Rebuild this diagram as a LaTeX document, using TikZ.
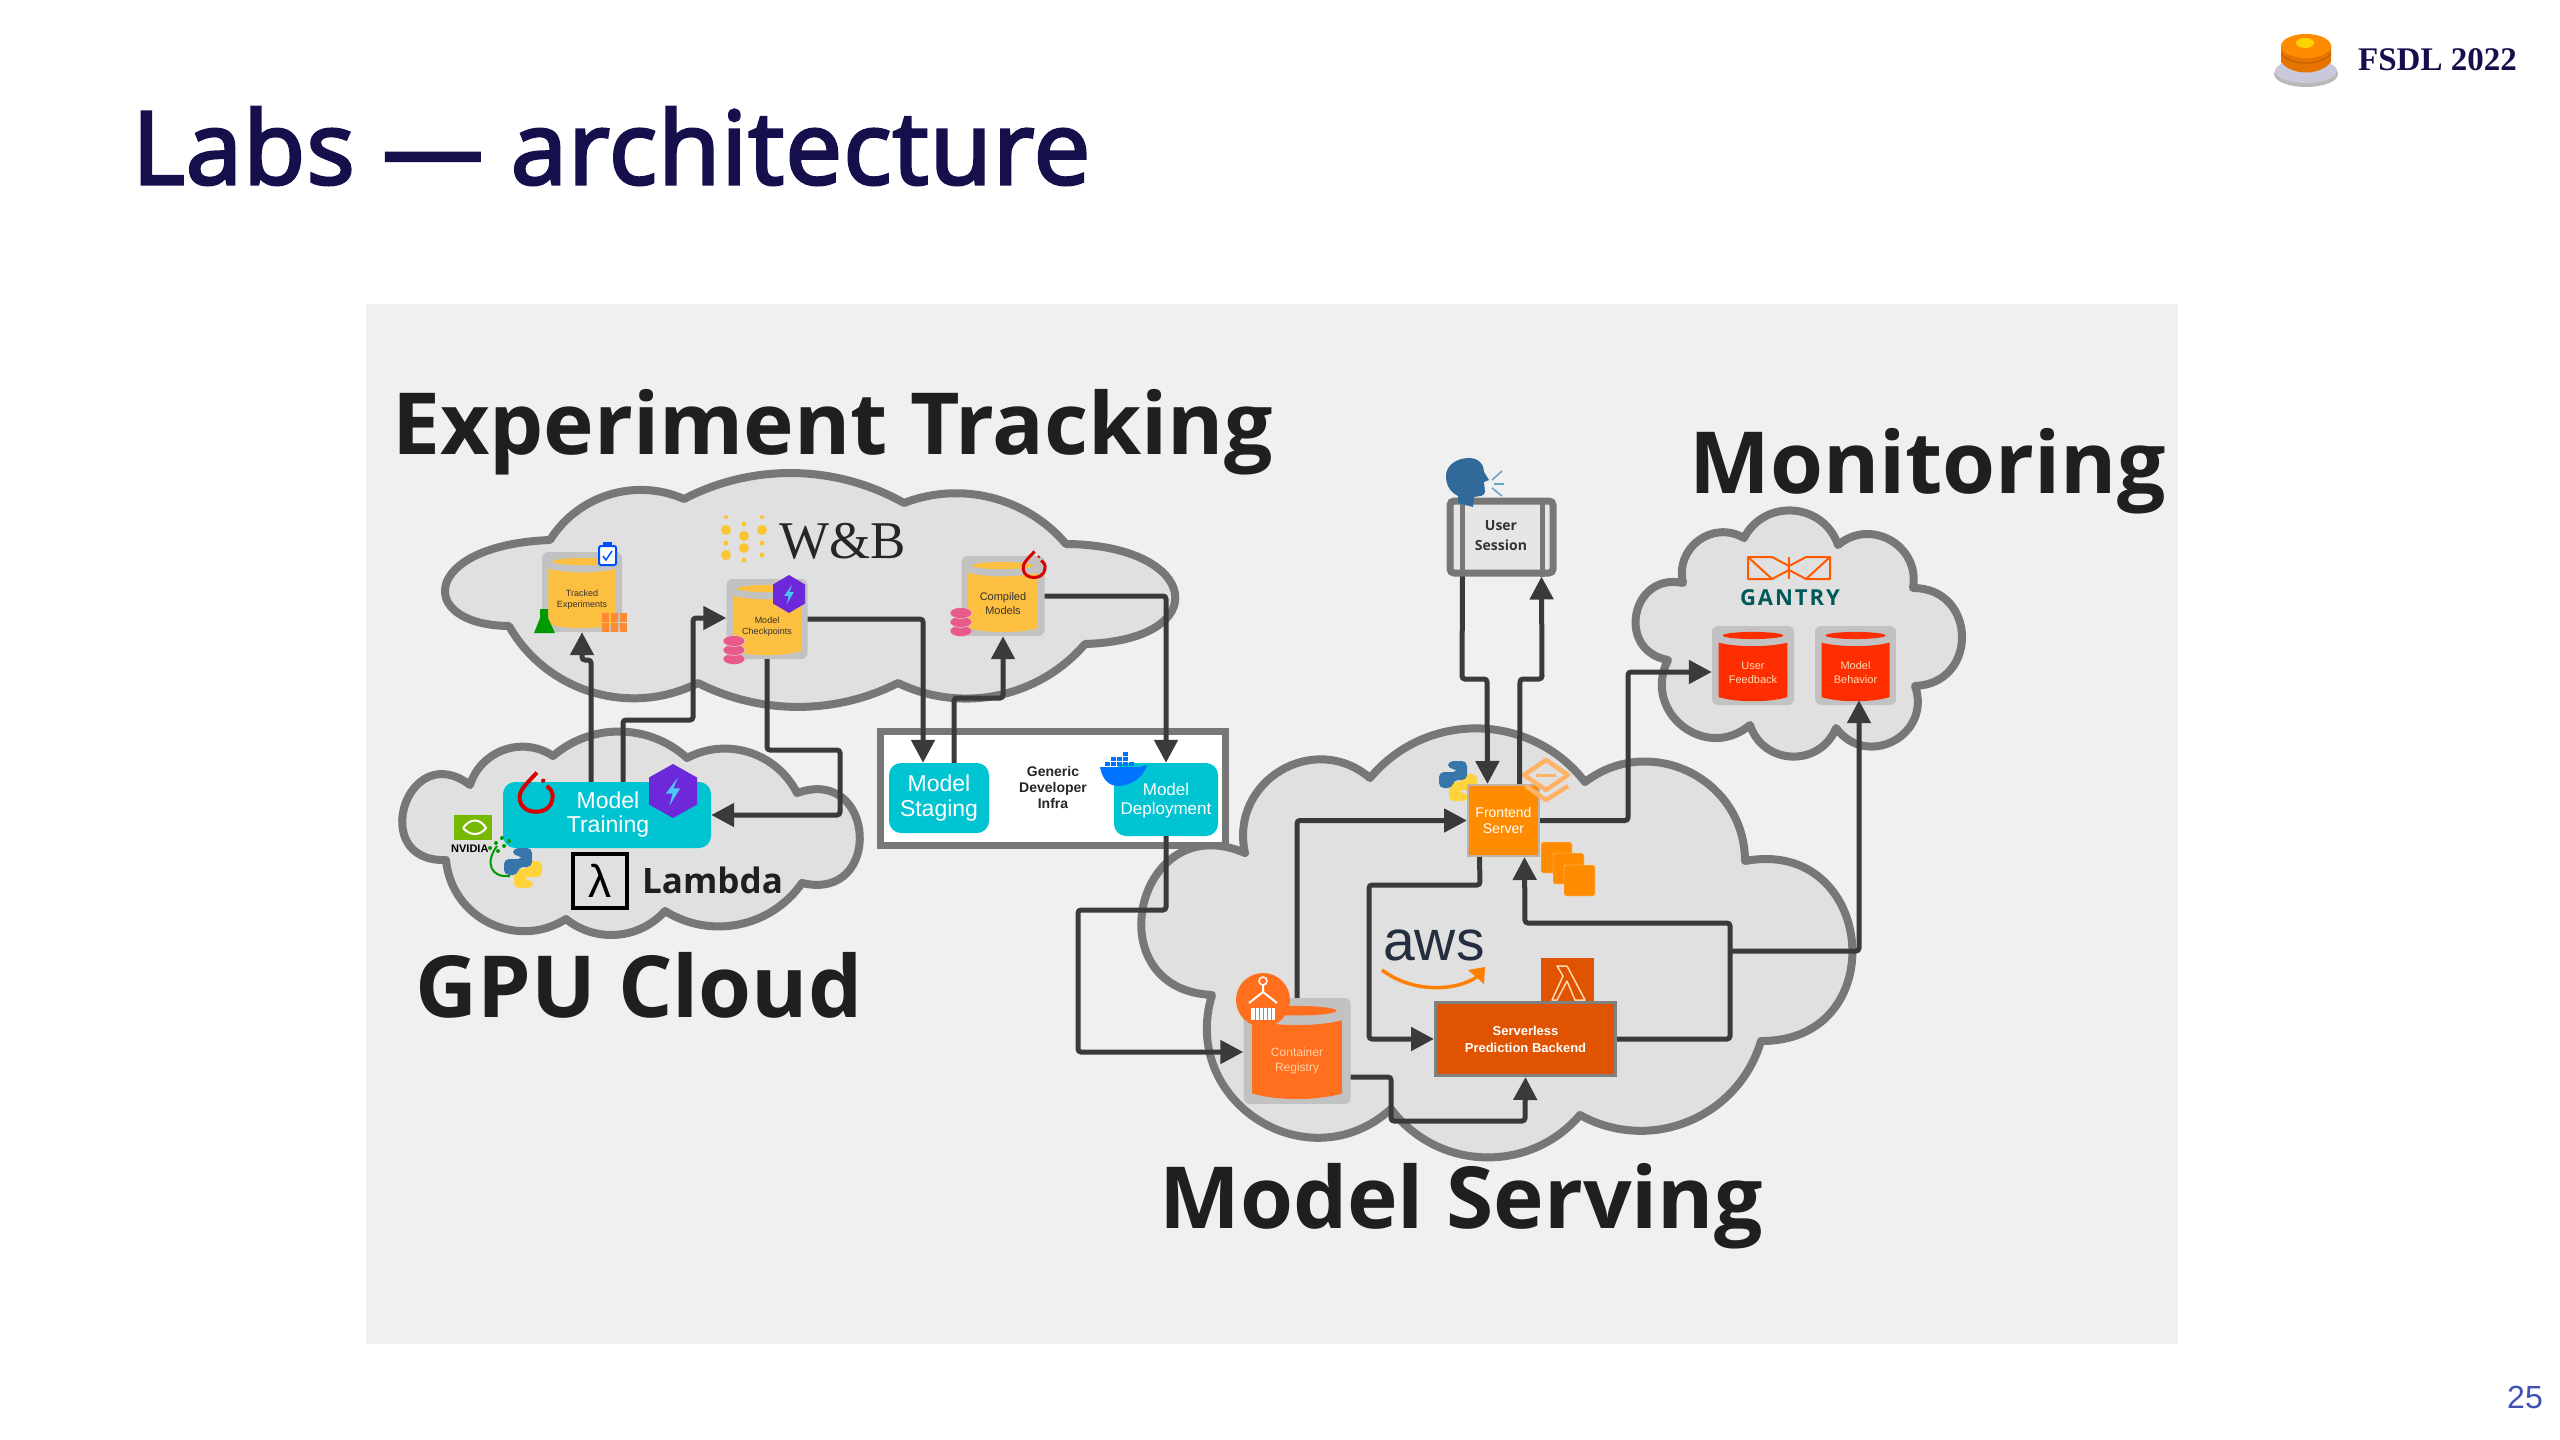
\documentclass[tikz,border=0pt]{standalone}
\usepackage{fontspec}
\setmainfont{Liberation Sans}
\newfontfamily\headfont{Open Sans}
\newfontfamily\titlefont[FakeBold=3,LetterSpace=1.3]{Open Sans}
\newfontfamily\gantryfont[LetterSpace=9]{Open Sans}
\newfontfamily\wbfont{Liberation Serif}
\usetikzlibrary{arrows.meta}
\definecolor{panelgray}{HTML}{F0F0F0}
\definecolor{cloudgray}{HTML}{E0E0E0}
\definecolor{cloudedge}{HTML}{777777}
\definecolor{flowgray}{HTML}{3A3A3A}
\definecolor{dbback}{HTML}{C2C2C2}
\definecolor{wbyellow}{HTML}{FDBF3F}
\definecolor{dotyellow}{HTML}{FBC531}
\definecolor{cyanfill}{HTML}{00C4D2}
\definecolor{frontorange}{HTML}{FF8C00}
\definecolor{lambdaorange}{HTML}{E05300}
\definecolor{regorange}{HTML}{FF6F1E}
\definecolor{gantryred}{HTML}{FF2E00}
\definecolor{pyblue}{HTML}{3776AB}
\definecolor{pyyellow}{HTML}{FFD43B}
\definecolor{hexpurple}{HTML}{6D28D9}
\definecolor{coinpink}{HTML}{E85A88}
\definecolor{navytitle}{HTML}{150F4B}
\definecolor{awsnavy}{HTML}{232F3E}
\definecolor{nvgreen}{HTML}{76B900}
\definecolor{pagenumblue}{HTML}{3F51B5}
\newcommand{\fsz}[1]{\fontsize{#1}{\numexpr#1*5/4\relax}\selectfont}
\tikzset{
    bulge/.code={\pgfmathsetmacro\bulgeang{2*atan(2*#1)}\pgfmathsetmacro\bulgeloose{1.703/(1+cos(\bulgeang))}\pgfkeysalso{bend left=\bulgeang,looseness=\bulgeloose}},
    cloudline/.style={draw=cloudedge,fill=cloudgray,line width=8pt,line join=round},
    flow/.style={draw=flowgray,line width=5pt,rounded corners=3pt,->},
    cyanbox/.style={fill=cyanfill,rounded corners=12pt,inner sep=0pt,align=center,text=white},
    bighead/.style={inner sep=0pt,anchor=base west,text=black!88,font=\headfont\bfseries\fontsize{85.7}{90}\selectfont},
}
% cylinder: name, x, y, w, h, fill, text colour, font, label
\newcommand{\dbcyl}[9]{
    \node[fill=dbback,rounded corners=6pt,inner sep=0pt,minimum width=#4pt,minimum height=#5pt] (#1) at (#2,#3) {};
    \begin{scope}[shift={(#2,#3)},x=#4pt,y=-#5pt]
        \fill[#6] (0,-0.38) ellipse [x radius=0.37,y radius=0.045];
        \fill[#6] (-0.42,-0.29) .. controls (-0.2,-0.23) and (0.2,-0.23) .. (0.42,-0.29) -- (0.42,0.40) .. controls (0.2,0.47) and (-0.2,0.47) .. (-0.42,0.40) -- cycle;
        \node[inner sep=0pt,align=center,text=#7,font=#8] (#1text) at (0,0.09) {#9};
    \end{scope}
}
\newcommand{\hexbolt}[4]{
    \begin{scope}[shift={(#1,#2)},x=#3pt,y=-#4pt]
        \fill[hexpurple] (0,-1) -- (1,-0.5) -- (1,0.5) -- (0,1) -- (-1,0.5) -- (-1,-0.5) -- cycle;
        \fill[cyan!70!white] (0.2,-0.5) -- (-0.3,0.1) -- (-0.02,0.1) -- (-0.15,0.55) -- (0.3,-0.1) -- (0.02,-0.1) -- cycle;
    \end{scope}
}
\newcommand{\torchring}[4]{
    \begin{scope}[shift={(#1,#2)},x=#3pt,y=-#3pt]
        \draw[red!85!black,line width=#4pt] (0.05,-1.3) .. controls (-0.5,-0.7) and (-1,-0.3) .. (-0.9,0.2) .. controls (-0.8,1.1) and (0.8,1.1) .. (0.9,0.2) .. controls (1,-0.2) and (0.8,-0.4) .. (0.6,-0.55);
        \fill[red!85!black] (0.4,-0.85) circle [radius=0.12];
    \end{scope}
}
\newcommand{\pysnake}[3]{
    \begin{scope}[shift={(#1,#2)},x=#3pt,y=-#3pt]
        \fill[pyyellow,rounded corners=5pt,rotate=180] (-0.5,-1) -- (0.45,-1) -- (0.45,-0.05) -- (-0.25,-0.05) -- (-0.25,0.35) -- (-0.95,0.35) -- (-0.95,-0.45) -- (0,-0.45) -- (0,-0.6) -- (-0.5,-0.6) -- cycle;
        \fill[pyblue,rounded corners=5pt] (-0.5,-1) -- (0.45,-1) -- (0.45,-0.05) -- (-0.25,-0.05) -- (-0.25,0.35) -- (-0.95,0.35) -- (-0.95,-0.45) -- (0,-0.45) -- (0,-0.6) -- (-0.5,-0.6) -- cycle;
    \end{scope}
}
\newcommand{\coinstack}[2]{
    \fill[coinpink,draw=cloudgray] (#1,#2+9) ellipse [x radius=11,y radius=5.5];
    \fill[coinpink,draw=cloudgray] (#1,#2) ellipse [x radius=11,y radius=5.5];
    \fill[coinpink,draw=cloudgray] (#1,#2-9) ellipse [x radius=11,y radius=5.5];
}
\begin{document}
\begin{tikzpicture}[x=1pt,y=-1pt,>={Triangle[length=23pt,width=23pt]}]
    \useasboundingbox (0,0) rectangle (2560,1440);
    \fill[white] (0,0) rectangle (2560,1440);
    \fill[panelgray] (366,304) rectangle (2178,1344);
    % slide furniture
    \node[inner sep=0pt,anchor=base west,text=navytitle,font=\titlefont\fontsize{101}{110}\selectfont] (slidetitle) at (132,184) {Labs — architecture};
    \node[inner sep=0pt,anchor=base west,text=navytitle,font=\wbfont\bfseries\fontsize{33}{40}\selectfont] (fsdl) at (2358,70) {FSDL 2022};
    \node[inner sep=0pt,anchor=base east,text=pagenumblue,font=\fsz{32}] (pagenum) at (2543,1408) {25};
    \fill[gray!55] (2306,74) ellipse [x radius=32,y radius=13];
    \fill[blue!20!gray!35] (2306,71) ellipse [x radius=31,y radius=12];
    \fill[orange!90!black] (2281,46) -- (2331,46) -- (2331,62) .. controls (2320,76) and (2292,76) .. (2281,62) -- cycle;
    \draw[orange!70!black,line width=0.8pt] (2281,54) .. controls (2292,66) and (2320,66) .. (2331,54);
    \fill[orange!90!yellow] (2306,46) ellipse [x radius=25,y radius=12];
    \fill[yellow!70!orange] (2305,43) ellipse [x radius=9,y radius=5];
    % clouds
    \draw[cloudline] (550,540) to[bulge=0.186] (684,499) to[bulge=0.127] (904,503) to[bulge=0.16] (1066,544) .. controls (1200,545) and (1216,640) .. (1085,644) to[bulge=0.17] (898,683) to[bulge=0.12] (698,683) to[bulge=0.2] (509,626) .. controls (415,625) and (421,545) .. (550,540) -- cycle;
    \draw[cloudline] (470,785) to[bulge=0.25] (553,756) to[bulge=0.19] (687,758) to[bulge=0.21] (797,793) to[bulge=0.67] (802,883) to[bulge=0.2] (665,911) to[bulge=0.2] (566,919) to[bulge=0.28] (446,860) to[bulge=0.71] (470,785) -- cycle;
    \draw[cloudline] (1370,778) to[bulge=0.24] (1585,782) to[bulge=0.31] (1745,861) to[bulge=0.55] (1761,1041) to[bulge=0.24] (1580,1115) to[bulge=0.24] (1391,1109) to[bulge=0.38] (1212,995) to[bulge=0.6] (1245,853) to[bulge=0.36] (1370,778) -- cycle;
    \draw[cloudline] (1744,538) to[bulge=0.33] (1838,545) to[bulge=0.35] (1913,588) to[bulge=0.49] (1915,686) to[bulge=0.43] (1836,728) to[bulge=0.35] (1750,725) to[bulge=0.41] (1668,660) to[bulge=0.51] (1683,583) to[bulge=0.33] (1744,538) -- cycle;
    % section titles
    \node[bighead] (exptitle) at (392,454) {Experiment Tracking};
    \node[bighead] (monitortitle) at (1689,493) {Monitoring};
    \node[bighead] (gputitle) at (415,1017) {GPU Cloud};
    \node[bighead] (servetitle) at (1159,1228) {Model Serving};
    % experiment tracking
    \node[inner sep=0pt,anchor=base west,text=black!85,font=\wbfont\fontsize{53}{60}\selectfont] (wandb) at (779,558) {W\&B};
    \foreach \dotx/\doty/\dotr in {726/517/2,726/530/5,726/543/2.5,726/555/5,744/524/2.5,744/536/5,744/548/5,744/560/2.5,762/517/2,762/530/5,762/543/2.5,762/555/2.5} {
        \fill[dotyellow] (\dotx,\doty) circle [radius=\dotr];
    }
    \dbcyl{tracked}{582}{592}{80}{80}{wbyellow}{black!80}{\fsz{9}}{Tracked\\Experiments}
    \dbcyl{checkpoints}{767}{619}{81}{80}{wbyellow}{black!80}{\fsz{9}}{Model\\Checkpoints}
    \dbcyl{compiled}{1003}{596}{83}{80}{wbyellow}{black!80}{\fsz{11}}{Compiled\\Models}
    \fill[green!60!black] (540,609) -- (548,609) -- (548,618) -- (555,633) -- (534,633) -- (540,618) -- cycle;
    \fill[white,draw=blue!70!cyan,line width=2pt,rounded corners=2pt] (599,546) rectangle (616,565);
    \draw[blue!70!cyan,line width=1.5pt] (603,556) -- (606,560) -- (612,551);
    \fill[blue!70!cyan] (603,542) rectangle (612,547);
    \foreach \blockx in {602,611,620} {
        \fill[orange!85!red!80] (\blockx,613) rectangle ++(7,9);
        \fill[orange!85!red!80] (\blockx,623) rectangle ++(7,9);
    }
    \hexbolt{789}{594}{16}{19}
    \coinstack{734}{650}
    \coinstack{961}{622}
    \torchring{1034}{567}{12}{3}
    % gpu cloud
    \node[cyanbox,minimum width=208pt,minimum height=66pt] (training) at (607,815) {};
    \node[inner sep=0pt,align=center,text=white,font=\fontsize{23}{24}\selectfont] (trainingtext) at (608,815) {Model\\Training};
    \torchring{536}{796}{18}{4}
    \hexbolt{673}{791}{24}{27}
    \fill[nvgreen] (454,815) rectangle (492,840);
    \draw[white,line width=2pt] (463,828) .. controls (470,818) and (480,818) .. (486,828) .. controls (480,836) and (470,836) .. (463,828);
    \node[inner sep=0pt,anchor=base west,font=\bfseries\fontsize{11}{14}\selectfont] (nvidia) at (451,852) {NVIDIA};
    \draw[green!60!black,line width=2pt] (497,846) .. controls (485,862) and (490,878) .. (510,876);
    \foreach \dotx/\doty in {490/848,496/843,502/838,498/851,504/846,509/841} {
        \fill[green!60!black] (\dotx,\doty) circle [radius=2];
    }
    \pysnake{523}{868}{20}
    \node[draw=black,line width=4pt,fill=cloudgray,inner sep=0pt,minimum width=54pt,minimum height=54pt,font=\fontsize{46}{50}\selectfont] (lambdabox) at (600,881) {λ};
    \node[inner sep=0pt,anchor=base west,text=black!88,font=\headfont\bfseries\fontsize{35}{40}\selectfont] (lambdaname) at (642,893) {Lambda};
    % generic infra
    \node[draw=cloudedge,line width=7pt,fill=white,minimum width=345pt,minimum height=114pt,inner sep=0pt] (infra) at (1053,788) {};
    \node[inner sep=0pt,align=center,text=black!85,font=\bfseries\fontsize{14}{16}\selectfont] (infratext) at (1053,787) {Generic\\Developer\\Infra};
    \node[cyanbox,minimum width=100pt,minimum height=70pt,font=\fontsize{23}{25}\selectfont] (staging) at (939,798) {Model\\Staging};
    \node[cyanbox,minimum width=104pt,minimum height=73pt,font=\fontsize{17}{19}\selectfont] (deployment) at (1166,799.5) {\rule{0pt}{14pt}Model\\Deployment};
    \fill[blue!55!cyan] (1100,767) -- (1140,767) -- (1147,765) .. controls (1142,782) and (1125,786) .. (1118,786) .. controls (1108,786) and (1102,778) .. (1100,767) -- cycle;
    \foreach \boxx/\boxy in {1105/762,1111/762,1117/762,1123/762,1129/762,1111/757,1117/757,1123/757,1123/752} {
        \fill[blue!55!cyan] (\boxx,\boxy) rectangle ++(5,4);
    }
    % model serving
    \pysnake{1458}{781}{20}
    \node[fill=frontorange,draw=brown!40!gray!60,line width=2pt,inner sep=0pt,minimum width=71pt,minimum height=71pt,align=center,text=white,font=\fontsize{14}{16}\selectfont] (frontend) at (1503.5,820.5) {Frontend\\Server};
    \draw[orange!60!white,line width=4.5pt,line join=round] (1546,760) -- (1568,775) -- (1546,790) -- (1524,775) -- cycle;
    \draw[orange!60!white,line width=4.5pt,line join=round] (1526,786) -- (1546,800) -- (1568,786);
    \draw[orange!60!white,line width=3pt] (1536,775) -- (1556,775);
    \foreach \stackx/\stacky in {1541/842,1553/853,1564/865} {
        \fill[frontorange,draw=orange!30!white,rounded corners=2pt] (\stackx,\stacky) rectangle ++(31,31);
    }
    \node[inner sep=0pt,anchor=base west,text=awsnavy,font=\fontsize{57}{60}\selectfont] (awstext) at (1383,960) {aws};
    \draw[orange,line width=3.5pt] (1382,970) .. controls (1415,995) and (1460,990) .. (1478,976);
    \fill[orange] (1468,970) -- (1485,967) -- (1484,984) -- cycle;
    \fill[lambdaorange] (1541,958) rectangle (1594,1004);
    \draw[orange!30!white,line width=1.5pt,line join=round] (1557,966) -- (1567,966) -- (1585,1000) -- (1575,1000) -- (1567,981) -- (1557,1000) -- (1552,1000) -- (1563,976) -- cycle;
    \node[fill=lambdaorange,draw=gray,line width=3pt,inner sep=0pt,minimum width=180pt,minimum height=73pt,align=center,text=white,font=\bfseries\fontsize{13}{17}\selectfont] (serverless) at (1525.5,1039) {Serverless\\Prediction Backend};
    \dbcyl{container}{1297}{1051}{107}{106}{regorange}{orange!35!white}{\fsz{12}}{Container\\Registry}
    \fill[regorange] (1263,1000) circle [radius=27];
    \draw[white,line width=2pt] (1263,985) -- (1263,992) -- (1249,1003);
    \draw[white,line width=2pt] (1263,992) -- (1277,1003);
    \draw[white,line width=1.5pt] (1263,981) circle [radius=4];
    \fill[white] (1251,1008) rectangle (1275,1020);
    \foreach \stripex in {1255,1259,1263,1267,1271} {
        \draw[regorange,line width=0.8pt] (\stripex,1008) -- (\stripex,1020);
    }
    % user session
    \node[draw=cloudedge,line width=7pt,fill=cloudgray!80!white,rounded corners=4pt,minimum width=103pt,minimum height=72pt,inner sep=0pt] (session) at (1501.5,537) {};
    \coordinate (sessionleft) at (1462,537);
    \coordinate (sessionright) at (1542,537);
    \draw[cloudedge,line width=5pt] (session.north -| sessionleft) -- (session.south -| sessionleft);
    \draw[cloudedge,line width=5pt] (session.north -| sessionright) -- (session.south -| sessionright);
    \node[inner sep=0pt,align=center,text=black!80,font=\headfont\bfseries\fontsize{14}{20}\selectfont] (sessiontext) at (1501,536) {User\\Session};
    \fill[pyblue!90!black] (1469,458) .. controls (1480,458) and (1484,466) .. (1484,472) -- (1489,480) -- (1484,482) -- (1485,492) .. controls (1484,497) and (1478,496) .. (1474,497) -- (1473,507) -- (1458,503) -- (1458,496) .. controls (1450,492) and (1446,485) .. (1446,476) .. controls (1446,465) and (1457,458) .. (1469,458) -- cycle;
    \draw[gray!50!cyan,line width=1.5pt] (1492,480) -- (1502,471);
    \draw[gray!50!cyan,line width=1.5pt] (1494,484) -- (1504,484);
    \draw[gray!50!cyan,line width=1.5pt] (1492,488) -- (1502,496);
    % monitoring
    \draw[orange!70!red,line width=2pt,line join=round] (1748,579) -- (1748,557) -- (1772,557) -- (1789,566) -- (1806,557) -- (1830,557) -- (1830,579) -- (1806,579) -- (1789,570) -- (1772,579) -- cycle;
    \draw[orange!70!red,line width=2pt] (1748,557) -- (1772,579);
    \draw[orange!70!red,line width=2pt] (1830,557) -- (1806,579);
    \draw[orange!70!red,line width=2pt] (1789,557) -- (1789,579);
    \node[inner sep=0pt,anchor=base,text=teal!70!black,font=\gantryfont\bfseries\fontsize{22}{24}\selectfont] (gantry) at (1790,605) {GANTRY};
    \dbcyl{feedback}{1753}{665.5}{82}{79}{gantryred}{orange!30!white}{\fsz{11}}{User\\Feedback}
    \dbcyl{behavior}{1855.5}{665.5}{81}{79}{gantryred}{orange!30!white}{\fsz{11}}{Model\\Behavior}
    % connectors
    \coordinate (branch) at (1730,951);
    \draw[flow] ([xshift=-16pt]training.north) -- (591,660) -- (582,660) -- (tracked.south);
    \draw[flow] ([xshift=16pt]training.north) -- (623,720) -- (693,720) -- (693,618) -- ([yshift=1pt]checkpoints.west);
    \draw[flow] (checkpoints.south) -- (767,750) -- (840,750) -- (840,815) -- (training.east);
    \draw[flow] (checkpoints.east) -- (923,619) -- ([xshift=-16pt]staging.north);
    \draw[flow] ([xshift=15pt]staging.north) -- (954,698) -- (1003,698) -- (compiled.south);
    \draw[flow] (compiled.east) -- (1166,596) -- (deployment.north);
    \draw[flow] (deployment.south) -- (1166,910) -- (1078,910) -- (1078,1052) -- ([yshift=-1pt]container.west);
    \draw[flow] (container.north) -- (1297,820.5) -- (frontend.west);
    \draw[flow] ([xshift=-24pt]frontend.south) -- (1480,885) -- (1369,885) -- (1369,1039) -- (serverless.west);
    \draw[flow] (serverless.east) -- (1730,1039) -- (1730,923) -- (1525,923) -- ([xshift=21pt]frontend.south);
    \draw[flow] (branch) -- (1859,951) -- ([xshift=3.5pt,yshift=5pt]behavior.south);
    \draw[flow] ([yshift=-26pt]container.east) -- (1391,1077) -- (1391,1121) -- (1525,1121) -- (serverless.south);
    \draw[flow] (frontend.east) -- (1628,820.5) -- (1628,672) -- ([yshift=-6.5pt]feedback.west);
    \draw[flow] ([xshift=-39pt]session.south) -- (1462,679) -- (1487,679) -- ([xshift=-16pt]frontend.north);
    \draw[flow] ([xshift=16pt]frontend.north) -- (1520,679) -- (1542,679) -- ([xshift=40pt]session.south);
\end{tikzpicture}
\end{document}
